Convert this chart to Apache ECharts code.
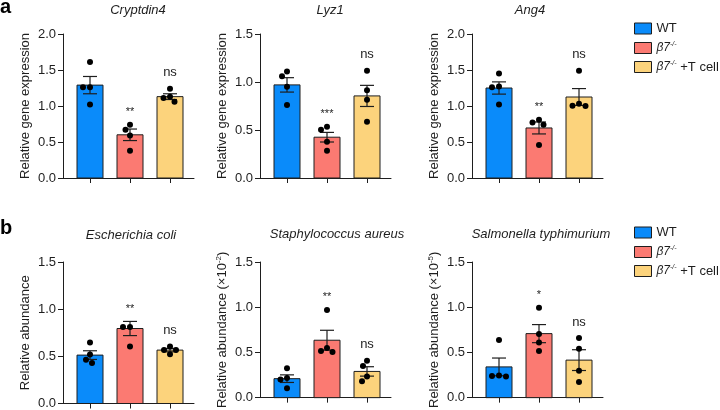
<!DOCTYPE html>
<html><head><meta charset="utf-8">
<script src="https://cdn.jsdelivr.net/npm/echarts@6/dist/echarts.min.js"></script>
<style>html,body{margin:0;padding:0;background:#fff}#c{width:720px;height:410px}</style>
</head><body><div id="c"></div>
<script>
// ---------- data ----------
const groups = ['WT', 'β7-/-', 'β7-/- +T cell'];
const panelTitles = ['Cryptdin4', 'Lyz1', 'Ang4', 'Escherichia coli', 'Staphylococcus aureus', 'Salmonella typhimurium'];
const yMax = [2.0, 1.5, 2.0, 1.5, 1.5, 1.5];
const yTickStep = 0.5;

const cryptdin4Mean = [1.29, 0.60, 1.13];
const cryptdin4Sem = [0.12, 0.08, 0.04];
const cryptdin4Points = [[1.61, 1.26, 1.26, 1.02], [0.74, 0.67, 0.59, 0.38], [1.24, 1.13, 1.11, 1.06]];

const lyz1Mean = [0.97, 0.425, 0.855];
const lyz1Sem = [0.075, 0.05, 0.11];
const lyz1Points = [[1.11, 1.06, 0.95, 0.76], [0.534, 0.503, 0.378, 0.284], [1.118, 0.913, 0.816, 0.586]];

const ang4Mean = [1.25, 0.695, 1.125];
const ang4Sem = [0.085, 0.083, 0.117];
const ang4Points = [[1.45, 1.27, 1.26, 1.02], [0.81, 0.772, 0.741, 0.458], [1.49, 1.03, 1.005, 1.0]];

const ecoliMean = [0.513, 0.795, 0.566];
const ecoliSem = [0.046, 0.075, 0.018];
const ecoliPoints = [[0.646, 0.52, 0.464, 0.43], [0.81, 0.81, 0.604], [0.604, 0.568, 0.568, 0.523]];

const saureusMean = [0.21, 0.635, 0.29];
const saureusSem = [0.042, 0.11, 0.052];
const saureusPoints = [[0.324, 0.216, 0.2, 0.105], [0.97, 0.548, 0.516, 0.506], [0.408, 0.349, 0.234, 0.181]];

const styphiMean = [0.34, 0.708, 0.415];
const styphiSem = [0.098, 0.1, 0.115];
const styphiPoints = [[0.638, 0.244, 0.24, 0.234], [0.994, 0.705, 0.61, 0.516], [0.659, 0.541, 0.297, 0.174]];

const sigCryptdin4 = ['', '**', 'ns'];
const sigLyz1 = ['', '***', 'ns'];
const sigAng4 = ['', '**', 'ns'];
const sigEcoli = ['', '**', 'ns'];
const sigSaureus = ['', '**', 'ns'];
const sigStyphi = ['', '*', 'ns'];

const yNameA = 'Relative gene expression';
const yNameB = ['Relative abundance', 'Relative abundance (×10', 'Relative abundance (×10'];
const yNameBExp = ['', '-2', '-5'];

// ---------- assembly ----------
const means = [cryptdin4Mean, lyz1Mean, ang4Mean, ecoliMean, saureusMean, styphiMean];
const sems = [cryptdin4Sem, lyz1Sem, ang4Sem, ecoliSem, saureusSem, styphiSem];
const points = [cryptdin4Points, lyz1Points, ang4Points, ecoliPoints, saureusPoints, styphiPoints];
const sigs = [sigCryptdin4, sigLyz1, sigAng4, sigEcoli, sigSaureus, sigStyphi];

const colors = ['#0a8bfa', '#fb7a72', '#fcd37c'];
const FONT = 'Arial, "Liberation Sans", sans-serif';
const INK = '#1e1e1e';

const gridLefts = [63, 260, 472, 63, 260, 472];
const gridTops = [34, 34, 34, 262, 262, 262];
const gridHeights = [144, 144, 144, 143, 143, 143];
const titleX = [138, 330, 530, 131, 337, 541];
const titleY = [10, 10, 10, 235, 234, 234];

const grids = [], xAxes = [], yAxes = [], series = [];

function beeswarm(ys, d) {
  const order = ys.map((y, i) => i).sort((a, b) => ys[a] - ys[b]);
  const placed = [];
  const off = new Array(ys.length).fill(0);
  order.forEach(i => {
    const cands = [0];
    for (let k = 1; k < 40; k++) { cands.push(-k * 0.5, k * 0.5); }
    for (const cx of cands) {
      let ok = true;
      for (const p of placed) {
        const dx = cx - p[0], dy = ys[i] - p[1];
        if (dx * dx + dy * dy < d * d - 0.01) { ok = false; break; }
      }
      if (ok) { off[i] = cx; placed.push([cx, ys[i]]); break; }
    }
  });
  return off;
}

function makeRender(p, g) {
  return function (params, api) {
    const mean = api.value(1), sem = api.value(2);
    const c = api.coord([g, mean]);
    const base = api.coord([g, 0]);
    const up = api.coord([g, mean + sem]);
    const lo = api.coord([g, Math.max(0, mean - sem)]);
    const ch = [];
    ch.push({ type: 'rect', shape: { x: c[0] - 13, y: c[1], width: 26, height: base[1] - c[1] },
      style: { fill: colors[g], stroke: INK, lineWidth: 1 } });
    ch.push({ type: 'line', shape: { x1: c[0], y1: up[1], x2: c[0], y2: lo[1] }, style: { stroke: INK, lineWidth: 1.2 } });
    ch.push({ type: 'line', shape: { x1: c[0] - 7, y1: up[1], x2: c[0] + 7, y2: up[1] }, style: { stroke: INK, lineWidth: 1.2 } });
    ch.push({ type: 'line', shape: { x1: c[0] - 7, y1: lo[1], x2: c[0] + 7, y2: lo[1] }, style: { stroke: INK, lineWidth: 1.2 } });
    const pts = points[p][g];
    const ys = pts.map(v => api.coord([g, v])[1]);
    const offs = beeswarm(ys, 6.6);
    let top = up[1];
    ys.forEach((y, i) => {
      top = Math.min(top, y);
      ch.push({ type: 'circle', shape: { cx: c[0] + offs[i], cy: y, r: 3 }, style: { fill: '#000' } });
    });
    const s = sigs[p][g];
    if (s) {
      const isStar = s.indexOf('*') >= 0;
      const target = top - 15;
      ch.push({ type: 'text', x: c[0], y: isStar ? target + 2.5 : target - 1,
        style: { text: s, font: (isStar ? '11px ' : '13px ') + FONT, fill: INK, align: 'center', verticalAlign: 'middle' } });
    }
    return { type: 'group', children: ch };
  };
}

for (let p = 0; p < 6; p++) {
  grids.push({ left: gridLefts[p], top: gridTops[p], width: 131, height: gridHeights[p] });
  xAxes.push({
    gridIndex: p, type: 'value', min: -0.675, max: 2.6,
    axisLine: { show: true, onZero: false, lineStyle: { color: INK, width: 1 } },
    axisTick: { show: true, customValues: [0, 1, 2], length: 5, lineStyle: { color: INK, width: 1 } },
    axisLabel: { show: false }, splitLine: { show: false }
  });
  let name;
  if (p < 3) {
    name = yNameA;
  } else {
    const k = p - 3;
    name = yNameBExp[k] ? '{n|' + yNameB[k] + '}{s|' + yNameBExp[k] + '}{n|)}' : yNameB[k];
  }
  yAxes.push({
    gridIndex: p, type: 'value', min: 0, max: yMax[p], interval: yTickStep,
    name: name, nameLocation: 'middle', nameGap: 31, nameRotate: 90,
    nameTextStyle: { fontFamily: FONT, fontSize: 13, color: INK,
      rich: { n: { fontFamily: FONT, fontSize: 13, color: INK }, s: { fontFamily: FONT, fontSize: 8, color: INK, verticalAlign: 'top', padding: [0, 0, 6, 0] } } },
    axisLine: { show: true, onZero: false, lineStyle: { color: INK, width: 1 } },
    axisTick: { show: true, length: 5, lineStyle: { color: INK, width: 1 } },
    axisLabel: { fontFamily: FONT, fontSize: 13, color: INK, margin: 7, formatter: v => v.toFixed(1) },
    splitLine: { show: false }
  });
  for (let g = 0; g < 3; g++) {
    series.push({
      type: 'custom', name: groups[g], xAxisIndex: p, yAxisIndex: p,
      itemStyle: { color: colors[g] },
      renderItem: makeRender(p, g),
      data: [[g, means[p][g], sems[p][g]]],
      clip: false, silent: true
    });
  }
}

const legendRich = {
  i: { fontFamily: FONT, fontSize: 12, fontStyle: 'italic', color: INK, lineHeight: 14 },
  s: { fontFamily: FONT, fontSize: 7, fontStyle: 'italic', color: INK, verticalAlign: 'top', lineHeight: 14, padding: [0, 0, 5, 0] },
  t: { fontFamily: FONT, fontSize: 13, color: INK, lineHeight: 14 }
};
function legendFmt(n) {
  if (n === groups[0]) return '{t|' + n + '}';
  if (n === groups[1]) return '{i|β7}{s|-/-}';
  return '{i|β7}{s|-/-}{t| +T cell}';
}
const legendBase = {
  orient: 'vertical', left: 634, itemWidth: 17, itemHeight: 11, itemGap: 6, icon: 'rect', padding: 0,
  itemStyle: { borderColor: INK, borderWidth: 1 },
  data: groups, formatter: legendFmt, selectedMode: false,
  textStyle: { fontFamily: FONT, fontSize: 13, color: INK, rich: legendRich }
};

const graphics = [];
panelTitles.forEach((t, i) => {
  graphics.push({ type: 'text', x: titleX[i], y: titleY[i],
    style: { text: t, font: 'italic 13px ' + FONT, fill: INK, align: 'center', verticalAlign: 'middle' } });
});
graphics.push({ type: 'text', x: 0, y: 7, style: { text: 'a', font: 'bold 20px ' + FONT, fill: '#000', align: 'left', verticalAlign: 'middle' } });
graphics.push({ type: 'text', x: 0, y: 228, style: { text: 'b', font: 'bold 20px ' + FONT, fill: '#000', align: 'left', verticalAlign: 'middle' } });

const chart = echarts.init(document.getElementById('c'), null, { renderer: 'canvas' });
chart.setOption({
  animation: false,
  backgroundColor: '#fff',
  grid: grids, xAxis: xAxes, yAxis: yAxes, series: series,
  legend: [Object.assign({}, legendBase, { top: 22 }), Object.assign({}, legendBase, { top: 226 })],
  graphic: graphics
});
</script>
</body></html>
